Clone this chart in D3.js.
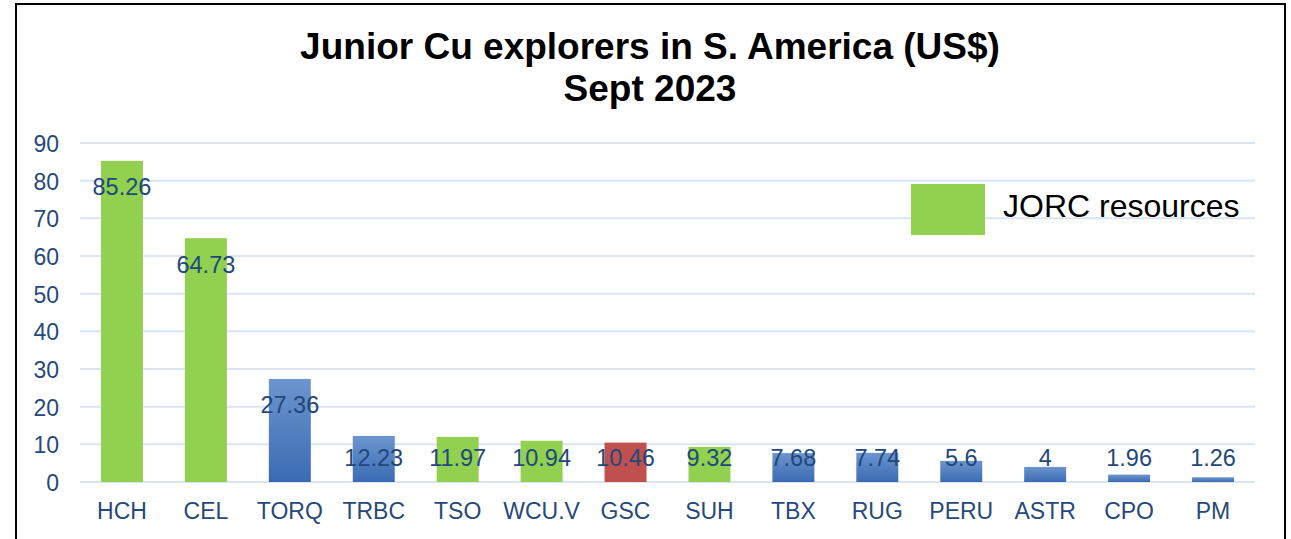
<!DOCTYPE html>
<html>
<head>
<meta charset="utf-8">
<script src="https://cdn.jsdelivr.net/npm/d3@7"></script>
<style>
  body { margin: 0; background: #fff; }
  text { font-family: "Liberation Sans", Arial, sans-serif; }
</style>
</head>
<body>
<svg id="svg"></svg>
<script>
// chart data
const companies = ["HCH", "CEL", "TORQ", "TRBC", "TSO", "WCU.V", "GSC", "SUH", "TBX", "RUG", "PERU", "ASTR", "CPO", "PM"];
const marketCaps = [85.26, 64.73, 27.36, 12.23, 11.97, 10.94, 10.46, 9.32, 7.68, 7.74, 5.6, 4, 1.96, 1.26];
const groups = ["jorc", "jorc", "other", "other", "jorc", "jorc", "gsc", "jorc", "other", "other", "other", "other", "other", "other"];
const yTicks = [0, 10, 20, 30, 40, 50, 60, 70, 80, 90];
const titleLines = ["Junior Cu explorers in S. America (US$)", "Sept 2023"];
const legendLabel = "JORC resources";

function createVisualization() {
  let w = 1291, h = 539;
  let svg = d3.select("#svg").attr("width", w).attr("height", h);

  // gradient for the plain blue bars
  let grad = svg.append("defs").append("linearGradient")
    .attr("id", "blueGrad").attr("x1", 0).attr("y1", 0).attr("x2", 0).attr("y2", 1);
  grad.append("stop").attr("offset", "0%").attr("stop-color", "#6d95cf");
  grad.append("stop").attr("offset", "100%").attr("stop-color", "#3a6bb2");

  const fills = { jorc: "#92d050", gsc: "#c0504d", other: "url(#blueGrad)" };

  // outer border
  svg.append("rect")
    .attr("x", 16).attr("y", 4).attr("width", 1269).attr("height", 560)
    .attr("fill", "none").attr("stroke", "#000").attr("stroke-width", 2);

  // title
  svg.selectAll(".title")
    .data(titleLines)
    .enter().append("text")
    .attr("x", 650)
    .attr("y", (d, i) => 59 + i * 42)
    .attr("text-anchor", "middle")
    .style("font-size", "37px")
    .style("font-weight", "bold")
    .text(d => d);

  let x = d3.scaleBand().domain(companies).range([80, 1255]).paddingInner(0.5).paddingOuter(0.25);
  let y = d3.scaleLinear().domain([0, 90]).range([482, 143]);

  // gridlines
  svg.selectAll(".grid")
    .data(yTicks)
    .enter().append("line")
    .attr("x1", 80).attr("x2", 1255)
    .attr("y1", d => y(d)).attr("y2", d => y(d))
    .attr("stroke", "#d9e4f4").attr("stroke-width", 2);

  // y axis labels
  svg.selectAll(".ylab")
    .data(yTicks)
    .enter().append("text")
    .attr("x", 59)
    .attr("y", d => y(d) + 9)
    .attr("text-anchor", "end")
    .style("font-size", "23px")
    .attr("fill", "#27497a")
    .text(d => d);

  // bars
  svg.selectAll(".bar")
    .data(companies)
    .enter().append("rect")
    .attr("x", d => x(d))
    .attr("width", x.bandwidth())
    .attr("y", (d, i) => y(marketCaps[i]))
    .attr("height", (d, i) => y(0) - y(marketCaps[i]))
    .attr("fill", (d, i) => fills[groups[i]]);

  // value labels (inside end, kept above the baseline)
  svg.selectAll(".val")
    .data(companies)
    .enter().append("text")
    .attr("x", d => x(d) + x.bandwidth() / 2)
    .attr("y", (d, i) => Math.min(y(marketCaps[i]) + 26, y(0) - 25) + 8.5)
    .attr("text-anchor", "middle")
    .style("font-size", "23.5px")
    .attr("fill", "#1f487c")
    .text((d, i) => marketCaps[i]);

  // x axis labels
  svg.selectAll(".xlab")
    .data(companies)
    .enter().append("text")
    .attr("x", d => x(d) + x.bandwidth() / 2)
    .attr("y", 519)
    .attr("text-anchor", "middle")
    .style("font-size", "23px")
    .attr("fill", "#27497a")
    .text(d => d);

  // legend
  svg.append("rect")
    .attr("x", 911).attr("y", 184).attr("width", 74).attr("height", 51)
    .attr("fill", fills.jorc);
  svg.append("text")
    .attr("x", 1003).attr("y", 217)
    .style("font-size", "32px")
    .attr("fill", "#000")
    .text(legendLabel);
}

createVisualization();
</script>
</body>
</html>
